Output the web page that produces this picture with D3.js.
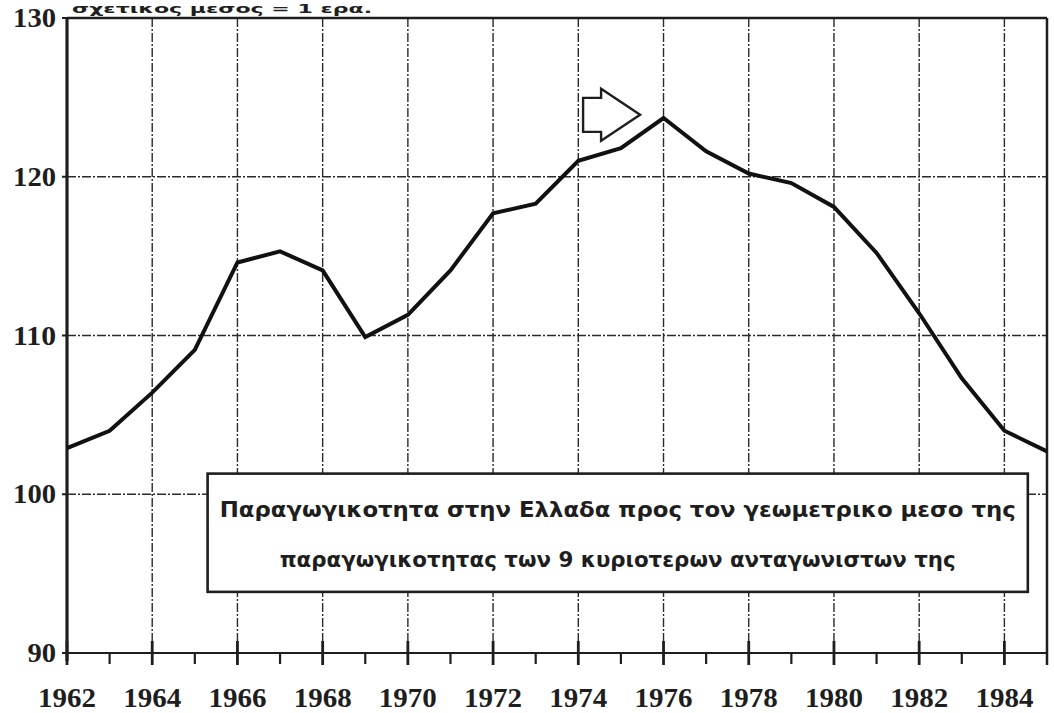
<!DOCTYPE html>
<html>
<head>
<meta charset="utf-8">
<script src="https://cdn.jsdelivr.net/npm/d3@7"></script>
<style>
  html, body { margin: 0; padding: 0; background: #fff; }
  svg { display: block; }
</style>
</head>
<body>
<svg id="chart" width="1054" height="713"></svg>
<script>
// ---- data ----
const years = [1962,1963,1964,1965,1966,1967,1968,1969,1970,1971,1972,1973,
               1974,1975,1976,1977,1978,1979,1980,1981,1982,1983,1984,1985];
const productivity = [102.9,104.0,106.4,109.1,114.6,115.3,114.1,109.9,111.3,114.1,117.7,118.3,
                      121.0,121.8,123.7,121.6,120.2,119.6,118.1,115.2,111.4,107.3,104.0,102.7];
const xTickYears = [1962,1964,1966,1968,1970,1972,1974,1976,1978,1980,1982,1984];
const yTicks = [90,100,110,120,130];
const annotationLines = [
  "Παραγωγικοτητα στην Ελλαδα προς τον γεωμετρικο μεσο της",
  "παραγωγικοτητας των 9 κυριοτερων ανταγωνιστων της"
];
const topText = "σχετικος μεσος = 1 ερα.";
const arrowTip = {year: 1975.45, value: 123.9};
const boxExtent = {year0: 1965.3, year1: 1984.55, value0: 93.85, value1: 101.3};

// ---- layout ----
const svg = d3.select("#chart");
const x = d3.scaleLinear().domain([1962, 1985]).range([67, 1047]);
const y = d3.scaleLinear().domain([90, 130]).range([653, 18]);
const ink = "#1e1e1e";

// small title fragment at very top
svg.append("text")
  .attr("x", 72).attr("y", 13)
  .attr("font-family", "DejaVu Sans").attr("font-weight", "bold")
  .attr("font-size", 13).attr("fill", ink)
  .attr("textLength", 300).attr("lengthAdjust", "spacingAndGlyphs")
  .text(topText);

// grid: vertical at even years, horizontal at 100/110/120
const grid = svg.append("g").attr("stroke", "#2a2a2a").attr("stroke-width", 1.4)
  .attr("stroke-dasharray", "9,2,2,2");
grid.selectAll("line.v").data(xTickYears.filter(d => d > 1962)).join("line")
  .attr("class", "v")
  .attr("x1", d => x(d)).attr("x2", d => x(d))
  .attr("y1", y(130)).attr("y2", y(90));
grid.selectAll("line.h").data(yTicks.filter(d => d > 90 && d < 130)).join("line")
  .attr("class", "h")
  .attr("x1", x(1962)).attr("x2", x(1985))
  .attr("y1", d => y(d)).attr("y2", d => y(d));

// frame: top and right
svg.append("line").attr("x1", x(1962)).attr("x2", x(1985)).attr("y1", y(130)).attr("y2", y(130))
  .attr("stroke", ink).attr("stroke-width", 2.5);
svg.append("line").attr("x1", x(1985)).attr("x2", x(1985)).attr("y1", y(130)).attr("y2", y(90) + 12)
  .attr("stroke", ink).attr("stroke-width", 2.5);

// x axis
const xAxisG = svg.append("g").attr("transform", `translate(0,${y(90)})`);
xAxisG.append("line").attr("x1", x(1962)).attr("x2", x(1985)).attr("y1", 0).attr("y2", 0)
  .attr("stroke", ink).attr("stroke-width", 2.2);
xAxisG.selectAll("line.maj").data(xTickYears).join("line").attr("class", "maj")
  .attr("x1", d => x(d)).attr("x2", d => x(d)).attr("y1", -12).attr("y2", 12)
  .attr("stroke", ink).attr("stroke-width", 2.8);
xAxisG.selectAll("line.min").data(years.filter(d => d % 2 === 1 && d < 1985)).join("line").attr("class", "min")
  .attr("x1", d => x(d)).attr("x2", d => x(d)).attr("y1", 0).attr("y2", 11)
  .attr("stroke", ink).attr("stroke-width", 2.2);
xAxisG.selectAll("text").data(xTickYears).join("text")
  .attr("x", d => x(d)).attr("y", 54)
  .attr("text-anchor", "middle")
  .attr("font-family", "Liberation Serif").attr("font-weight", "bold")
  .attr("font-size", 28).attr("fill", ink)
  .attr("textLength", 58).attr("lengthAdjust", "spacingAndGlyphs")
  .text(d => d);

// y axis
const yAxisG = svg.append("g");
yAxisG.append("line").attr("x1", x(1962)).attr("x2", x(1962)).attr("y1", y(130)).attr("y2", y(90) + 8)
  .attr("stroke", ink).attr("stroke-width", 3.2);
yAxisG.selectAll("line.t").data(yTicks).join("line").attr("class", "t")
  .attr("x1", x(1962) - 5).attr("x2", x(1962)).attr("y1", d => y(d)).attr("y2", d => y(d))
  .attr("stroke", ink).attr("stroke-width", 2);
yAxisG.selectAll("text").data(yTicks).join("text")
  .attr("x", 56).attr("y", d => y(d) + 9)
  .attr("text-anchor", "end")
  .attr("font-family", "Liberation Serif").attr("font-weight", "bold")
  .attr("font-size", 28).attr("fill", ink)
  .attr("textLength", d => String(d).length * 14.3).attr("lengthAdjust", "spacingAndGlyphs")
  .text(d => d);

// annotation box
const bx0 = x(boxExtent.year0), bx1 = x(boxExtent.year1);
const by0 = y(boxExtent.value1), by1 = y(boxExtent.value0);
const boxG = svg.append("g");
boxG.append("rect")
  .attr("x", bx0).attr("y", by0)
  .attr("width", bx1 - bx0).attr("height", by1 - by0)
  .attr("fill", "#fff").attr("stroke", ink).attr("stroke-width", 2.6);
boxG.selectAll("text").data(annotationLines).join("text")
  .attr("x", (bx0 + bx1) / 2)
  .attr("y", (d, i) => by0 + 43 + i * 50)
  .attr("text-anchor", "middle")
  .attr("font-family", "DejaVu Sans").attr("font-weight", "bold")
  .attr("font-size", 21).attr("fill", ink)
  .attr("textLength", (d, i) => i === 0 ? 796 : 676)
  .attr("lengthAdjust", "spacingAndGlyphs")
  .text(d => d);

// data line
const line = d3.line().x((d, i) => x(years[i])).y(d => y(d));
svg.append("path").datum(productivity)
  .attr("d", line)
  .attr("fill", "none").attr("stroke", "#111").attr("stroke-width", 4)
  .attr("stroke-linejoin", "miter");

// block arrow annotation
const tx = x(arrowTip.year), ty = y(arrowTip.value);
const arrowPts = [[0,0],[-39,-26],[-39,-17],[-57,-17],[-57,17],[-39,17],[-39,26]]
  .map(p => [tx + p[0], ty + p[1]]);
svg.append("path")
  .attr("d", d3.line()(arrowPts) + "Z")
  .attr("fill", "#fff").attr("stroke", ink).attr("stroke-width", 2.4)
  .attr("stroke-linejoin", "miter");
</script>
</body>
</html>
